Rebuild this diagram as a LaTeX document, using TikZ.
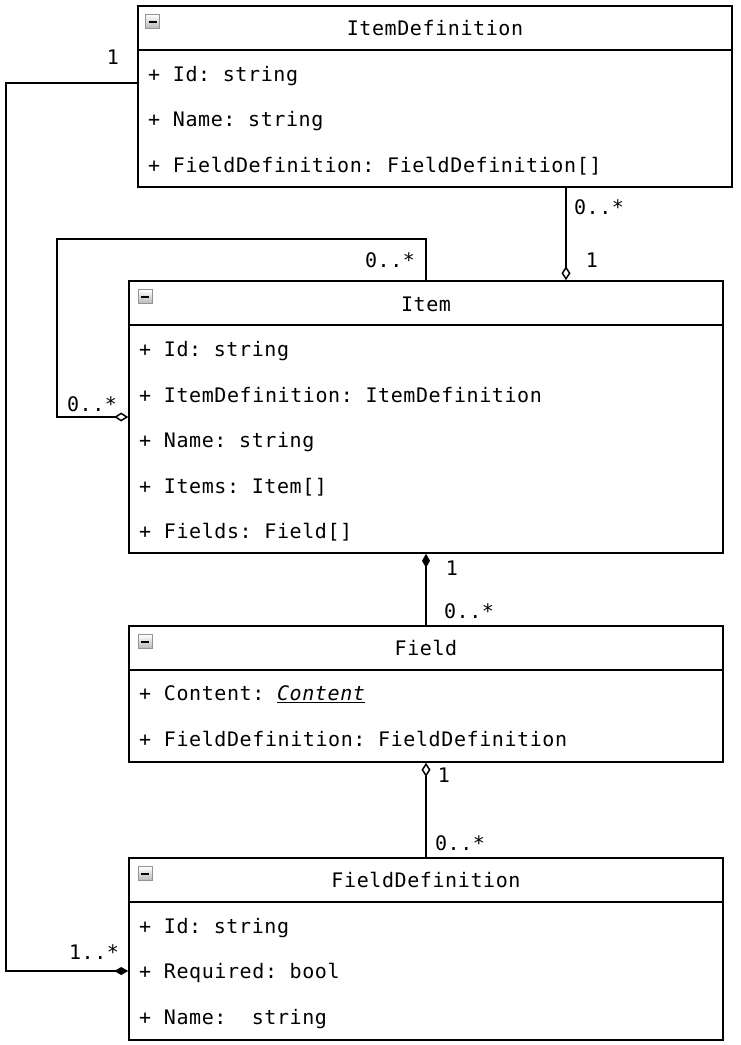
\documentclass[tikz,border=0pt]{standalone}
\usepackage{fontspec}
\newfontfamily\umlfont{DejaVu Sans Mono}[LetterSpace=3]
\usetikzlibrary{arrows.meta,positioning}
\tikzset{
	classbox/.style={draw,rectangle,line width=1.6pt,inner sep=0pt,minimum width=594pt},
	labeled/.style={font=\umlfont\fontsize{20}{24}\selectfont\frenchspacing,inner sep=0pt,
		text height=14.6pt,text depth=0pt},
	attr/.style={labeled,anchor=west},
	collapsebox/.style={draw=gray!85,top color=white,bottom color=gray!55,minimum size=14pt,
		inner sep=0pt,line width=1pt,
		path picture={\draw[black,line width=2pt] ([xshift=-4pt]path picture bounding box.center)
			-- ([xshift=4pt]path picture bounding box.center);}},
	aggr/.style={{Diamond[open,length=14pt,width=9pt]}-,line width=1.5pt},
	comp/.style={{Diamond[length=14pt,width=8pt]}-,line width=1.5pt}
}

\begin{document}
\begin{tikzpicture}[x=1pt,y=-1pt]
	\useasboundingbox (0,0) rectangle (740,1045);
	
	\node[classbox,minimum height=181pt] (idef) at (435,96.5) {};
	\draw[line width=1.6pt] ([yshift=-45pt]idef.north west) -- ([yshift=-45pt]idef.north east);
	\node[collapsebox] (idef-m) at (152.5,21.5) {};
	\node[labeled] (idef-t) at (435,28.5) {ItemDefinition};
	\foreach \a [count=\i] in {{+ Id: string},{+ Name: string},{+ FieldDefinition: FieldDefinition[]}}
		\node[attr] (idef-\i) at (148,28.5+45.5*\i) {\a};
	
	\node[classbox,minimum height=272pt] (item) at (426,417) {};
	\draw[line width=1.6pt] ([yshift=-45pt]item.north west) -- ([yshift=-45pt]item.north east);
	\node[collapsebox] (item-m) at (145,296.5) {};
	\node[labeled] (item-t) at (426,304) {Item};
	\foreach \a [count=\i] in {{+ Id: string},{+ ItemDefinition: ItemDefinition},{+ Name: string},
		{+ Items: Item[]},{+ Fields: Field[]}}
		\node[attr] (item-\i) at (139,304+45.5*\i) {\a};
	
	\node[classbox,minimum height=136pt] (field) at (426,694) {};
	\draw[line width=1.6pt] ([yshift=-45pt]field.north west) -- ([yshift=-45pt]field.north east);
	\node[collapsebox] (field-m) at (145,641.5) {};
	\node[labeled] (field-t) at (426,648) {Field};
	\foreach \a [count=\i] in {{+ Content: \underline{\itshape Content}},{+ FieldDefinition: FieldDefinition}}
		\node[attr] (field-\i) at (139,648+45.5*\i) {\a};
	
	\node[classbox,minimum height=182pt] (fdef) at (426,949) {};
	\draw[line width=1.6pt] ([yshift=-45pt]fdef.north west) -- ([yshift=-45pt]fdef.north east);
	\node[collapsebox] (fdef-m) at (145,873.5) {};
	\node[labeled] (fdef-t) at (426,880.5) {FieldDefinition};
	\foreach \a [count=\i] in {{+ Id: string},{+ Required: bool},{+ Name:~~string}}
		\node[attr] (fdef-\i) at (139,880.5+45.5*\i) {\a};
	
	\draw[comp] ([yshift=-22pt]fdef.west) -- ++(-122pt,0) |- ([yshift=13.5pt]idef.west);
	\node[labeled] (l-idef) at (113,57) {1};
	\node[labeled] (l-fdef) at (94,952) {1..*};
	
	\draw[aggr] ([xshift=140pt]item.north) -- ([xshift=140pt]item.north |- idef.south);
	\node[labeled] (l-idef2) at (599,207) {0..*};
	\node[labeled] (l-item) at (592,260) {1};
	
	\draw[aggr] (item.west) -- ++(-71pt,0) |- ([yshift=41pt]item.north) -- (item.north);
	\node[labeled] (l-self1) at (390,260) {0..*};
	\node[labeled] (l-self2) at (92,404) {0..*};
	
	\draw[comp] (item.south) -- (field.north);
	\node[labeled] (l-item2) at (452,568) {1};
	\node[labeled] (l-field) at (469,611) {0..*};
	
	\draw[aggr] (field.south) -- (fdef.north);
	\node[labeled] (l-field2) at (444,775) {1};
	\node[labeled] (l-fdef2) at (460,843) {0..*};
\end{tikzpicture}
\end{document}
